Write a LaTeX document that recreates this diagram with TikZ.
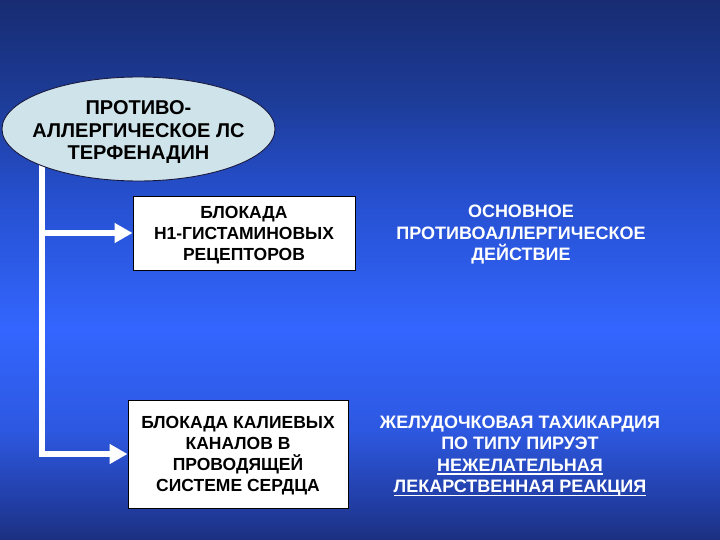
\documentclass[tikz,border=0pt]{standalone}
\usepackage{fontspec}
\setmainfont{Liberation Sans}
\usetikzlibrary{shapes.geometric,arrows.meta}
\definecolor{bgA}{HTML}{172C72}
\definecolor{bgB}{HTML}{1D3C98}
\definecolor{bgC}{HTML}{2650D0}
\definecolor{bgD}{HTML}{3366FF}
\definecolor{bgE}{HTML}{2D58E0}
\definecolor{bgF}{HTML}{223FA8}
\definecolor{bgG}{HTML}{1B3080}
\definecolor{ellfill}{HTML}{CFE3EA}
\definecolor{ellline}{HTML}{1A1A40}
\pgfdeclareverticalshading{bgshade}{100bp}{color(0bp)=(bgG); color(25bp)=(bgG); color(28.7bp)=(bgF); color(35.19bp)=(bgE); color(44.44bp)=(bgD); color(56.48bp)=(bgC); color(65.74bp)=(bgB); color(75bp)=(bgA); color(100bp)=(bgA)}
\pgfdeclarelayer{back}
\pgfdeclarelayer{conn}
\pgfsetlayers{back,conn,main}
\newcommand{\myul}[1]{\setbox0\hbox{#1}\rlap{\rule[-3.6pt]{\wd0}{1.7pt}}\box0}
\tikzset{
  txt/.style={font=\fontsize{17.5}{21}\selectfont\bfseries, align=center, inner sep=0pt},
  ellbox/.style={ellipse, draw=ellline, line width=0.9pt, fill=ellfill, minimum width=273pt, minimum height=104pt, inner sep=0pt},
  elltxt/.style={txt, font=\fontsize{20}{22.5}\selectfont\bfseries, text depth=0pt},
  whitebox/.style={rectangle, draw=black, line width=0.9pt, fill=white, txt, text depth=0pt},
  lbl/.style={txt, text=white, font=\fontsize{18}{21.5}\selectfont\bfseries},
  conn/.style={draw=white, line width=6pt},
  connarrow/.style={conn, -{Triangle[length=18pt,width=19pt]}}
}
\begin{document}
\begin{tikzpicture}[x=1pt,y=-1pt]
\begin{pgfonlayer}{back}
\shade[shading=bgshade] (0,0) rectangle (720,540);
\end{pgfonlayer}
\useasboundingbox (0,0) rectangle (720,540);
\node[ellbox] (ell) at (138.5,129) {};
\node[elltxt] (ellt) at (ell.center) [yshift=-1.4pt] {ПРОТИВО-\\АЛЛЕРГИЧЕСКОЕ ЛС\\ТЕРФЕНАДИН};
\node[whitebox, minimum width=222pt, minimum height=74pt] (b1) at (244,233) {БЛОКАДА\\Н1-ГИСТАМИНОВЫХ\\РЕЦЕПТОРОВ};
\node[whitebox, minimum width=220pt, minimum height=108pt] (b2) at (238,454) {БЛОКАДА КАЛИЕВЫХ\\КАНАЛОВ В\\ПРОВОДЯЩЕЙ\\СИСТЕМЕ СЕРДЦА};
\node[lbl] (r1) at (521,235) {ОСНОВНОЕ\\ПРОТИВОАЛЛЕРГИЧЕСКОЕ\\ДЕЙСТВИЕ};
\node[lbl] (r2) at (520,456) {ЖЕЛУДОЧКОВАЯ ТАХИКАРДИЯ\\ПО ТИПУ ПИРУЭТ\\\myul{НЕЖЕЛАТЕЛЬНАЯ}\\\myul{ЛЕКАРСТВЕННАЯ РЕАКЦИЯ}};
\coordinate (corner) at (42,454);
\coordinate (j1) at (42,233);
\begin{pgfonlayer}{conn}
\draw[connarrow] (ell.center -| corner) -- (corner) -- (b2.west);
\draw[connarrow] (j1) -- (b1.west);
\end{pgfonlayer}
\end{tikzpicture}
\end{document}
